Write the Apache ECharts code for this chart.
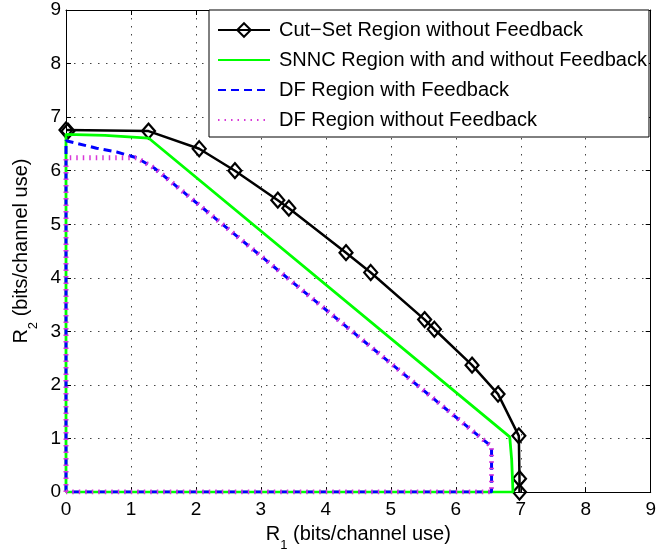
<!DOCTYPE html>
<html><head><meta charset="utf-8">
<script src="https://cdn.jsdelivr.net/npm/echarts@6/dist/echarts.min.js"></script>
<style>html,body{margin:0;padding:0;background:#fff}#c{width:659px;height:557px}</style>
</head><body><div id="c"></div>
<script>
const seriesNames = [
  'Cut\u2212Set Region without Feedback',
  'SNNC Region with and without Feedback',
  'DF Region with Feedback',
  'DF Region without Feedback'
];
const xTicks = [0,1,2,3,4,5,6,7,8,9];
const yTicks = [0,1,2,3,4,5,6,7,8,9];
// [R1, R2] pairs
const cutSet = [[0,6.76],[0.03,6.74],[1.27,6.74],[2.05,6.41],[2.60,6.00],[3.26,5.45],[3.43,5.30],[4.31,4.47],[4.69,4.10],[5.52,3.22],[5.67,3.04],[6.25,2.37],[6.65,1.83],[6.97,1.05],[6.98,0.25],[6.98,0]];
const snnc = [[0,0],[0,6.68],[0.6,6.66],[1.27,6.61],[6.83,1.03],[6.86,0.6],[6.88,0],[0,0]];
const dfFeedback = [[0,0],[0,6.56],[0.47,6.42],[0.78,6.35],[1.09,6.24],[1.37,6.04],[6.55,0.85],[6.55,0],[0,0]];
const dfNoFeedback = [[0,0],[0,6.24],[1.09,6.24],[1.37,6.04],[6.55,0.85],[6.55,0],[0,0]];

const FONT = '"Liberation Sans", Arial, Helvetica, sans-serif';
const chart = echarts.init(document.getElementById('c'), null, {renderer:'canvas'});

const nameRich = {
  m: {fontSize:20, lineHeight:20, fontFamily:FONT, color:'#000', verticalAlign:'top'},
  s: {fontSize:13, lineHeight:13, fontFamily:FONT, color:'#000', verticalAlign:'top', padding:[15,0,0,0]}
};
function baseAxis(extra){
  return Object.assign({
    type:'value', min:0, max:9, interval:1,
    axisLine:{show:true, onZero:false, lineStyle:{color:'#000', width:1}},
    axisTick:{show:true, inside:true, length:5, lineStyle:{color:'#000'}},
    splitLine:{show:false},
    axisLabel:{show:false}
  }, extra);
}
const option = {
  animation:false,
  backgroundColor:'#fff',
  grid:{left:66, right:7, top:10, bottom:54, containLabel:false},
  xAxis:[
    baseAxis({position:'bottom',
      axisLabel:{show:true, margin:8, fontSize:19, fontFamily:FONT, color:'#000', formatter:v=>xTicks.includes(v)?String(v):''},
      splitLine:{show:true, lineStyle:{color:'#444', width:1, type:[1.5,6.5]}},
      name:'{m|R}{s|1}{m| (bits/channel use)}', nameLocation:'middle', nameGap:26,
      nameTextStyle:{rich:nameRich}
    }),
    baseAxis({position:'top'})
  ],
  yAxis:[
    baseAxis({position:'left',
      axisLabel:{show:true, margin:5, fontSize:19, fontFamily:FONT, color:'#000', formatter:v=>yTicks.includes(v)?String(v):''},
      splitLine:{show:true, lineStyle:{color:'#444', width:1, type:[1.5,6.5]}},
      name:'{m|R}{s|2}{m| (bits/channel use)}', nameLocation:'middle', nameGap:26,
      nameTextStyle:{rich:nameRich}
    }),
    baseAxis({position:'right'})
  ],
  legend:{
    orient:'vertical', left:209, top:10,
    backgroundColor:'#fff', borderColor:'#000', borderWidth:1, borderRadius:0,
    padding:[9,2,6,8], itemWidth:52, itemHeight:17, itemGap:8,
    textStyle:{fontSize:20, fontFamily:FONT, color:'#000', lineHeight:22, padding:[0,0,0,4]},
    data:[
      {name:seriesNames[0]},
      {name:seriesNames[1], itemStyle:{opacity:0}},
      {name:seriesNames[2], itemStyle:{opacity:0}},
      {name:seriesNames[3], itemStyle:{opacity:0}}
    ]
  },
  series:[
    {name:seriesNames[0], type:'line', data:cutSet, xAxisIndex:0, yAxisIndex:0,
     symbol:'diamond', symbolSize:[13,15], showSymbol:true,
     lineStyle:{color:'#000', width:2.5},
     itemStyle:{color:'rgba(255,255,255,0)', borderColor:'#000', borderWidth:2.2},
     emphasis:{disabled:true}, z:2},
    {name:seriesNames[1], type:'line', data:snnc, showSymbol:false, symbol:'none',
     lineStyle:{color:'#00ff00', width:2.8}, itemStyle:{color:'#00ff00'}, emphasis:{disabled:true}, z:3},
    {name:seriesNames[2], type:'line', data:dfFeedback, showSymbol:false, symbol:'none',
     lineStyle:{color:'#0000ff', width:3, type:[8,5]}, itemStyle:{color:'#0000ff'}, emphasis:{disabled:true}, z:4},
    {name:seriesNames[3], type:'line', data:dfNoFeedback, showSymbol:false, symbol:'none',
     lineStyle:{color:'#d838d8', width:5, type:[1.5,5]}, itemStyle:{color:'#d838d8'}, emphasis:{disabled:true}, z:5}
  ]
};
chart.setOption(option);
</script></body></html>
